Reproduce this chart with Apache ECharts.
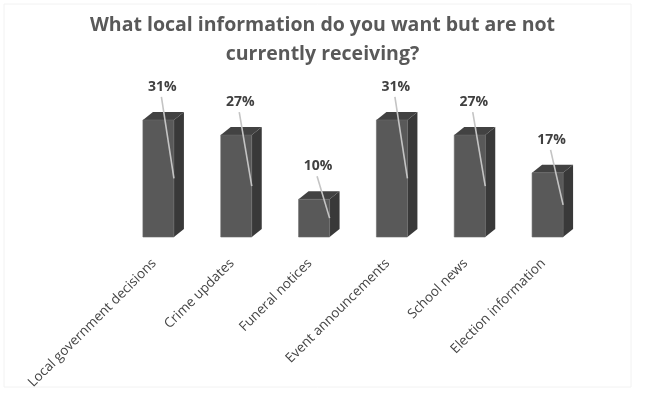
<!DOCTYPE html>
<html>
<head>
<meta charset="utf-8">
<script src="https://cdn.jsdelivr.net/npm/echarts@6/dist/echarts.min.js"></script>
<style>
  html, body { margin: 0; padding: 0; background: #ffffff; }
  #chart { width: 645px; height: 402px; }
</style>
</head>
<body>
<div id="chart"></div>
<script>
// Survey: local information wanted but not currently received (% of respondents)
const categories = [
  'Local government decisions',
  'Crime updates',
  'Funeral notices',
  'Event announcements',
  'School news',
  'Election information'
];
const shares = [31, 27, 10, 31, 27, 17];
const titleText = 'What local information do you want but are not\ncurrently receiving?';

const FRONT = '#595959';
const SIDE = '#393939';
const TOP = '#424242';
const DEPTH_X = 10;
const DEPTH_Y = 8;
const BAR_W = 31;

// Pseudo-3D column: front face, right side face, top face, plus value label with leader line
function renderColumn(params, api) {
  const idx = api.value(0);
  const val = api.value(1);
  const top = api.coord([idx, val]);
  const base = api.coord([idx, 0]);
  const x0 = top[0] - BAR_W / 2;
  const x1 = top[0] + BAR_W / 2;
  const yT = top[1];
  const yB = base[1];
  const midY = (yT + yB) / 2;
  const labelX = top[0] + 4;
  const labelY = yT - 33;
  return {
    type: 'group',
    children: [
      {
        type: 'polygon',
        shape: { points: [[x1, yT], [x1 + DEPTH_X, yT - DEPTH_Y], [x1 + DEPTH_X, yB - DEPTH_Y], [x1, yB]] },
        style: { fill: SIDE }
      },
      {
        type: 'polygon',
        shape: { points: [[x0, yT], [x0 + DEPTH_X, yT - DEPTH_Y], [x1 + DEPTH_X, yT - DEPTH_Y], [x1, yT]] },
        style: { fill: TOP }
      },
      {
        type: 'rect',
        shape: { x: x0, y: yT, width: BAR_W, height: yB - yT },
        style: { fill: FRONT, stroke: '#6a6a6a', lineWidth: 0.6 }
      },
      {
        type: 'line',
        shape: { x1: labelX - 1, y1: labelY + 10, x2: x1, y2: midY },
        style: { stroke: '#c4c4c4', lineWidth: 1.6 }
      },
      {
        type: 'text',
        style: {
          text: val + '%',
          x: labelX,
          y: labelY,
          align: 'center',
          verticalAlign: 'middle',
          fill: '#404040',
          font: 'bold 14px "Open Sans", sans-serif'
        }
      }
    ]
  };
}

const chart = echarts.init(document.getElementById('chart'), null, { renderer: 'canvas' });
chart.setOption({
  animation: false,
  backgroundColor: '#ffffff',
  title: {
    text: titleText,
    left: 'center',
    top: 6,
    textStyle: {
      fontFamily: 'Open Sans',
      fontWeight: 'bold',
      fontSize: 19.5,
      lineHeight: 29,
      color: '#595959'
    }
  },
  graphic: [{
    type: 'rect',
    shape: { x: 4, y: 4, width: 627, height: 383 },
    style: { fill: 'none', stroke: '#f2f2f2', lineWidth: 1 },
    silent: true
  }],
  grid: { left: 119.5, right: 58.5, top: 86, bottom: 165 },
  xAxis: {
    type: 'category',
    data: categories,
    axisLine: { show: false },
    axisTick: { show: false },
    axisLabel: {
      rotate: 45,
      margin: 20,
      padding: [0, 6, 0, 0],
      interval: 0,
      fontFamily: 'Open Sans',
      fontSize: 13.5,
      color: '#454545'
    }
  },
  yAxis: {
    type: 'value',
    min: 0,
    max: 40,
    show: false,
    splitLine: { show: false }
  },
  series: [{
    type: 'custom',
    renderItem: renderColumn,
    data: shares.map((v, i) => [i, v]),
    encode: { x: 0, y: 1 }
  }]
});
</script>
</body>
</html>
